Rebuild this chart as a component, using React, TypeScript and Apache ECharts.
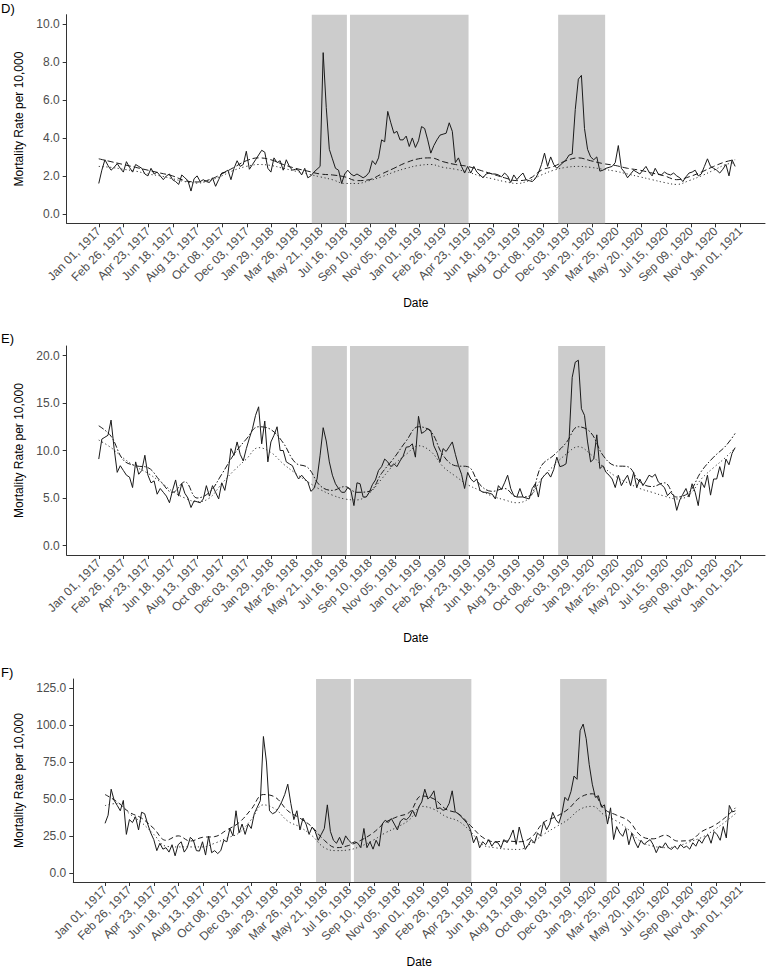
import React, { useEffect, useRef } from 'react';
import * as echarts from 'echarts';

const START = Date.UTC(1917, 0, 1);
const DAY_MS = 86400000;
const TOTAL_DAYS = 1461;
const toDay = (s: string) => (Date.parse(s + 'T00:00:00Z') - START) / DAY_MS;

const tickLabels = [
  'Jan 01, 1917', 'Feb 26, 1917', 'Apr 23, 1917', 'Jun 18, 1917', 'Aug 13, 1917', 'Oct 08, 1917',
  'Dec 03, 1917', 'Jan 29, 1918', 'Mar 26, 1918', 'May 21, 1918', 'Jul 16, 1918', 'Sep 10, 1918',
  'Nov 05, 1918', 'Jan 01, 1919', 'Feb 26, 1919', 'Apr 23, 1919', 'Jun 18, 1919', 'Aug 13, 1919',
  'Oct 08, 1919', 'Dec 03, 1919', 'Jan 29, 1920', 'Mar 25, 1920', 'May 20, 1920', 'Jul 15, 1920',
  'Sep 09, 1920', 'Nov 04, 1920', 'Jan 01, 1921',
];
const TICK_STEP = TOTAL_DAYS / (tickLabels.length - 1);
const tickDays = tickLabels.map((_, k) => k * TICK_STEP);

const shadedPeriods: [string, string][] = [
  ['1918-05-01', '1918-07-20'],
  ['1918-07-27', '1919-04-23'],
  ['1919-11-13', '1920-02-28'],
];

// weekly observations start on Jan 01, 1917 (week index -> day = 7 * week)
const smoothWeeks = [...Array.from({ length: 52 }, (_, i) => i * 4), 207];

const dObserved = [
  1.6, 2.3, 2.85, 2.55, 2.3, 2.45, 2.65, 2.4, 2.2, 2.75,
  2.45, 2.2, 2.6, 2.5, 2.4, 2.1, 2.0, 2.4, 2.1, 2.2,
  2.0, 1.8, 2.0, 2.1, 1.8, 1.7, 1.55, 2.05, 1.9, 1.75,
  1.2, 1.85, 2.0, 1.7, 1.8, 1.7, 1.65, 1.9, 1.45, 1.8,
  2.15, 2.2, 2.3, 1.8, 2.4, 2.8, 2.5, 2.6, 3.3, 2.35,
  2.6, 2.85, 3.1, 3.35, 3.25, 2.4, 2.2, 2.95, 2.7, 2.8,
  2.3, 2.85, 2.5, 2.3, 2.35, 2.3, 2.05, 2.4, 1.9, 2.0,
  2.2, 2.35, 2.5, 8.5, 5.6, 3.4, 2.9, 2.4, 2.3, 1.6,
  2.1, 2.3, 2.1, 2.0, 2.1, 2.0, 1.9, 2.0, 2.2, 2.8,
  2.6, 2.95, 3.9, 3.8, 5.4, 4.8, 4.25, 4.35, 3.9, 3.9,
  4.1, 3.55, 4.0, 3.5, 3.85, 4.6, 4.5, 3.9, 3.2, 3.6,
  3.9, 4.15, 4.2, 4.25, 4.8, 4.35, 2.7, 2.95, 2.5, 2.15,
  2.5, 2.15, 2.5, 2.2, 2.05, 1.9, 2.1, 2.15, 2.1, 2.1,
  2.05, 1.95, 2.15, 2.0, 1.65, 2.05, 1.8, 2.0, 2.15, 1.8,
  1.75, 1.7, 1.85, 2.15, 2.6, 3.2, 2.5, 3.0, 2.6, 2.4,
  2.55, 2.7, 2.85, 3.1, 3.15, 5.5, 7.1, 7.3, 4.5, 3.4,
  3.0, 2.85, 3.0, 2.25, 2.3, 2.4, 2.45, 2.5, 2.7, 3.6,
  2.4, 2.2, 1.9, 2.1, 2.3, 2.2, 2.1, 2.3, 2.5, 2.2,
  2.0, 2.4, 2.1, 2.05, 2.2, 2.1, 2.05, 2.15, 2.0, 1.9,
  1.7, 1.95, 2.15, 2.2, 2.3, 2.0, 2.1, 2.5, 2.9, 2.5,
  2.4, 2.3, 2.15, 2.35, 2.6, 2.0, 2.85, 2.5,
];
const dDashed = [
  2.9, 2.75, 2.6, 2.45, 2.3, 2.15, 2.0, 1.75, 1.68, 1.8,
  2.1, 2.45, 2.8, 2.95, 2.85, 2.6, 2.4, 2.25, 2.1, 2.05,
  1.95, 1.75, 1.8, 2.1, 2.4, 2.7, 2.9, 2.95, 2.75, 2.6,
  2.5, 2.3, 2.1, 1.9, 1.75, 1.85, 2.3, 2.5, 2.8, 2.95,
  2.8, 2.65, 2.55, 2.4, 2.3, 2.15, 2.0, 1.8, 1.95, 2.2,
  2.5, 2.75, 2.85,
];
const dDotted = [
  2.5, 2.45, 2.35, 2.25, 2.1, 2.0, 1.85, 1.7, 1.62, 1.75,
  2.0, 2.3, 2.5, 2.6, 2.55, 2.4, 2.25, 2.1, 1.95, 1.8,
  1.6, 1.6, 1.75, 1.95, 2.2, 2.4, 2.55, 2.6, 2.45, 2.35,
  2.2, 2.0, 1.85, 1.7, 1.6, 1.75, 2.05, 2.3, 2.45, 2.5,
  2.45, 2.35, 2.25, 2.1, 1.95, 1.8, 1.65, 1.55, 1.75, 2.0,
  2.3, 2.6, 2.7,
];

const eObserved = [
  9.1, 11.2, 11.4, 11.6, 13.2, 10.2, 7.7, 8.4, 7.9, 7.4,
  7.2, 6.1, 8.8, 7.5, 7.9, 9.5, 7.4, 6.6, 6.8, 5.4,
  6.0, 5.6, 5.2, 4.5, 5.8, 6.9, 5.2, 6.5, 5.5, 5.0,
  4.0, 4.7, 4.6, 4.5, 4.9, 6.3, 5.2, 6.3, 5.6, 4.9,
  6.6, 5.8, 7.5, 10.2, 9.5, 10.9, 9.6, 8.9, 10.2, 11.3,
  12.3, 13.7, 14.6, 10.7, 13.1, 8.8, 10.9, 11.6, 12.5, 10.0,
  10.0, 8.8, 8.6, 8.4, 7.6, 7.0, 7.4, 7.0, 6.7, 5.7,
  6.0, 7.0, 9.5, 12.4, 11.0, 8.8, 7.4, 6.5, 6.0, 5.6,
  5.6, 6.1, 5.8, 4.2, 6.6, 6.5, 5.1, 5.1, 5.6, 6.4,
  6.9, 7.9, 8.3, 9.1, 8.8, 8.3, 8.6, 8.3, 8.9, 9.4,
  10.35, 10.4, 10.7, 9.3, 13.6, 11.8, 12.0, 12.3, 12.1, 10.5,
  9.8, 8.8, 10.2, 9.9, 10.4, 10.9, 9.6, 8.4, 7.5, 6.0,
  7.7, 7.0, 6.7, 7.0, 5.8, 5.6, 5.6, 5.5, 5.4, 4.9,
  6.3, 5.9, 6.6, 7.4, 6.0, 5.25, 5.1, 6.0, 5.1, 5.0,
  4.9, 6.0, 6.5, 5.1, 7.0, 7.4, 7.7, 7.2, 8.0, 9.3,
  8.3, 8.4, 8.6, 11.2, 17.7, 19.3, 19.5, 14.4, 13.7, 10.9,
  8.8, 9.1, 11.65, 8.1, 8.4, 7.7, 7.4, 7.0, 6.1, 7.4,
  6.3, 6.9, 7.4, 6.3, 7.7, 6.1, 7.0, 6.3, 6.8, 7.4,
  7.2, 7.5, 6.7, 6.4, 6.1, 5.25, 5.6, 5.25, 3.7, 4.8,
  5.4, 6.0, 5.1, 6.5, 5.6, 4.2, 6.7, 6.1, 7.4, 5.3,
  7.0, 7.0, 8.3, 7.2, 9.1, 8.5, 9.7, 10.3,
];
const eDashed = [
  12.6, 11.5, 9.0, 8.4, 8.2, 6.8, 5.6, 6.7, 5.0, 5.6,
  7.5, 9.6, 11.2, 12.5, 12.2, 10.8, 8.7, 8.2, 6.3, 5.8,
  6.2, 5.6, 5.7, 7.6, 9.2, 11.0, 12.5, 12.0, 9.5, 8.4,
  8.3, 6.4, 5.7, 6.0, 5.1, 5.2, 8.4, 9.5, 10.8, 12.5,
  11.9, 9.5, 8.4, 8.3, 6.7, 6.2, 6.6, 5.1, 5.6, 7.8,
  9.3, 10.5, 11.8,
];
const eDotted = [
  11.1, 10.3, 9.2, 8.3, 7.6, 6.7, 5.7, 5.0, 4.6, 5.0,
  6.5, 7.9, 9.1, 10.3, 9.8, 8.6, 7.6, 6.7, 5.9, 5.3,
  4.9, 4.8, 5.5, 7.0, 8.5, 9.6, 10.5, 9.9, 8.3, 7.3,
  6.4, 5.8, 5.2, 4.8, 4.5, 5.0, 7.0, 8.4, 9.6, 10.4,
  9.6, 8.3, 7.3, 6.6, 6.0, 5.6, 5.2, 4.9, 5.3, 7.0,
  8.2, 9.3, 10.3,
];

const fObserved = [
  33.5, 39, 56.6, 49, 45.6, 42, 49, 26, 36, 34,
  38, 29, 41, 40, 33, 27, 22.5, 15, 20, 16,
  17, 14, 19, 11.5, 19, 21, 14, 17, 24, 22,
  15, 14.7, 21, 12, 24.7, 13.6, 15, 13, 15, 22,
  21, 30, 25, 42, 27, 33, 26, 33, 30, 40,
  44.5, 48.9, 92.3, 75, 42, 40, 41, 44, 48, 53,
  60, 47, 36, 42, 29, 37, 33, 26, 31, 28,
  22, 26, 30, 46, 28, 22, 20, 24, 19, 25,
  22, 20, 21, 20, 17, 30, 17, 21, 16, 22,
  18, 33, 35.6, 34, 36.7, 33, 29, 35, 36.7, 36,
  38, 42.3, 38, 44.5, 48, 56.6, 50, 52, 55.5, 43.4,
  44, 42.3, 43, 47, 55.5, 41.2, 40, 37.9, 35.6, 33.3,
  29, 20.3, 24.7, 16.9, 21, 19, 22.5, 18, 21, 20.3,
  17, 22.5, 20.3, 24, 29, 19.2, 31, 23, 15.8, 19,
  22.5, 20, 26.9, 25, 34.5, 29.1, 33, 40.9, 36, 33.5,
  40, 51.1, 48.9, 55, 65.5, 63.3, 96.3, 100.7, 90.8, 73.2,
  60, 51.1, 52.2, 44.5, 46, 33, 44, 22.5, 31.3, 27,
  24.7, 30, 19, 26.9, 21, 16.9, 22, 19.2, 21, 22.5,
  19, 13.6, 18, 17, 20.3, 17, 15.8, 18, 16, 19.2,
  17, 18, 16, 20.3, 18, 22.5, 20, 24, 25.8, 20,
  27.9, 25.8, 22, 31.3, 23.6, 45.6, 41.2, 42,
];
const fDashed = [
  53, 48, 41, 37, 30, 22, 25, 21.5, 24, 24.5,
  29, 34, 43, 53, 51, 42, 37, 31, 22, 17,
  18.5, 22, 27, 34, 38, 41, 52, 50, 43, 40,
  32, 24, 21, 21.5, 21, 24, 34, 38, 43, 51,
  53.5, 43, 39, 35, 25, 23, 25.5, 21.5, 22, 28,
  32, 38, 44,
];
const fDotted = [
  45.5, 47, 40, 34, 26, 18, 17.5, 17.5, 17.5, 20,
  23.5, 27, 36, 46, 43, 35, 31, 25, 17, 15,
  15.5, 18, 22, 27, 31, 36, 45, 43, 38, 35,
  28, 19, 17, 16, 15.8, 20, 26, 31, 36, 43,
  45, 39, 35, 29, 21, 18, 17, 18, 21, 24,
  29, 35, 40,
];

const dTicks = [0, 2, 4, 6, 8, 10];
const eTicks = [0, 5, 10, 15, 20];
const fTicks = [0, 25, 50, 75, 100, 125];

const FONT = "'Liberation Sans', Arial, sans-serif";
const INK = '#1a1a1a';
const AXIS = '#333333';

const panels = [
  { label: 'D)', obs: dObserved, dashed: dDashed, dotted: dDotted, ticks: dTicks, yMin: -0.5, yMax: 10.5,
    top: 14.7, height: 208.6, left: 66.7, labelTop: 2, dash: [6, 3], nameGap: 74 },
  { label: 'E)', obs: eObserved, dashed: eDashed, dotted: eDotted, ticks: eTicks, yMin: -1, yMax: 21,
    top: 346, height: 209, left: 66.7, labelTop: 332, dash: [6, 2, 1.5, 2], nameGap: 77 },
  { label: 'F)', obs: fObserved, dashed: fDashed, dotted: fDotted, ticks: fTicks, yMin: -6.25, yMax: 131.25,
    top: 679, height: 207.7, left: 73.3, labelTop: 666, dash: [5, 3], nameGap: 74 },
];

export default function App() {
  const ref = useRef<HTMLDivElement>(null);
  useEffect(() => {
    if (!ref.current) return;
    const chart = echarts.init(ref.current, null, { renderer: 'svg' });
    const grid: any[] = [];
    const xAxis: any[] = [];
    const yAxis: any[] = [];
    const series: any[] = [];
    const graphic: any[] = [];
    panels.forEach((p, i) => {
      grid.push({ left: p.left, top: p.top, width: 766 - p.left - 1, height: p.height });
      xAxis.push({
        type: 'value', gridIndex: i, min: -73, max: 1517,
        name: 'Date', nameLocation: 'middle', nameGap: p.nameGap,
        nameTextStyle: { fontSize: 12, color: '#000', fontFamily: FONT },
        axisLine: { show: true, onZero: false, lineStyle: { color: AXIS, width: 1 } },
        axisTick: { show: true, customValues: tickDays, length: 4, lineStyle: { color: AXIS, width: 1 } },
        axisLabel: {
          customValues: tickDays, rotate: 45, margin: 6, fontSize: 12, color: '#4d4d4d', fontFamily: FONT,
          formatter: (v: number) => tickLabels[Math.round(v / TICK_STEP)] ?? '',
        },
        splitLine: { show: false },
      });
      yAxis.push({
        type: 'value', gridIndex: i, min: p.yMin, max: p.yMax,
        name: 'Mortality Rate per 10,000', nameLocation: 'middle', nameGap: p.left - 26, nameRotate: 90,
        nameTextStyle: { fontSize: 12, color: '#000', fontFamily: FONT },
        axisLine: { show: true, onZero: false, lineStyle: { color: AXIS, width: 1 } },
        axisTick: { show: true, customValues: p.ticks, length: 4, lineStyle: { color: AXIS, width: 1 } },
        axisLabel: {
          customValues: p.ticks, margin: 7, fontSize: 12, color: '#4d4d4d', fontFamily: FONT,
          formatter: (v: number) => v.toFixed(1),
        },
        splitLine: { show: false },
      });
      series.push({
        type: 'line', xAxisIndex: i, yAxisIndex: i, z: 3,
        data: p.obs.map((v, w) => [w * 7, v]),
        showSymbol: false, symbol: 'none', silent: true,
        lineStyle: { color: INK, width: 1 },
        markArea: {
          silent: true, z: 1,
          itemStyle: { color: '#cccccc', opacity: 1 },
          emphasis: { disabled: true },
          data: shadedPeriods.map(([a, b]) => [{ xAxis: toDay(a) }, { xAxis: toDay(b) }]),
        },
      });
      series.push({
        type: 'line', xAxisIndex: i, yAxisIndex: i, z: 3, smooth: 0.4,
        data: smoothWeeks.map((w, j) => [w * 7, p.dashed[j]]),
        showSymbol: false, symbol: 'none', silent: true,
        lineStyle: { color: INK, width: 1, type: p.dash },
      });
      series.push({
        type: 'line', xAxisIndex: i, yAxisIndex: i, z: 3, smooth: 0.4,
        data: smoothWeeks.map((w, j) => [w * 7, p.dotted[j]]),
        showSymbol: false, symbol: 'none', silent: true,
        lineStyle: { color: '#333', width: 1, type: [1.2, 2.6] },
      });
      graphic.push({
        type: 'text', left: 1, top: p.labelTop,
        style: { text: p.label, fontSize: 13, fill: '#000', fontFamily: FONT },
      });
    });
    chart.setOption({
      animation: false,
      backgroundColor: '#ffffff',
      textStyle: { fontFamily: FONT },
      grid, xAxis, yAxis, series, graphic,
    });
    return () => chart.dispose();
  }, []);
  return (
    <div
      ref={ref}
      style={{ position: 'absolute', left: 0, top: 0, width: 766, height: 969, background: '#fff' }}
    />
  );
}
